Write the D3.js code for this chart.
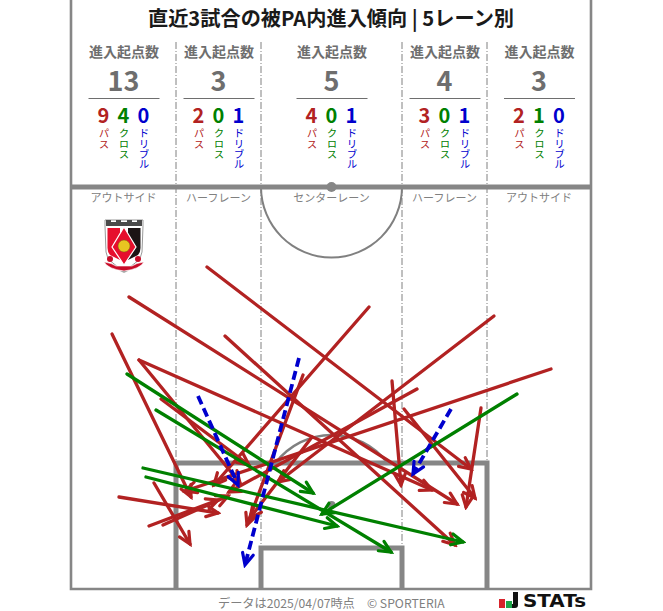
<!DOCTYPE html>
<html><head><meta charset="utf-8">
<script src="https://cdn.jsdelivr.net/npm/d3@7"></script>
<style>html,body{margin:0;padding:0;background:#fff}svg{display:block;font-family:"Noto Sans CJK JP","Noto Sans",sans-serif}</style>
</head><body><svg id="c" width="663" height="611"></svg>
<script>
const laneNames = ["アウトサイド","ハーフレーン","センターレーン","ハーフレーン","アウトサイド"];
const laneEdges = [0,105,190,331,416,520];
const laneTotals = [13,3,5,4,3];
const passCounts = [9,2,4,3,2];
const crossCounts = [4,0,0,0,1];
const dribbleCounts = [0,1,1,1,0];
const typeNames = ["パス","クロス","ドリブル"];
const typeColors = ["#b22222","#008000","#0000cd"];
// [startX, startY, endX, endY] in pitch units: 520 wide, 402 from halfway line to goal line
const passes = [
 [41,147,120,310],[58,110,386,317],[136,80,400,282],[154,149,384,358],
 [68,173,169,296],[68,173,361,303],[90,212,178,278],[48,310,147,326],
 [83,296,119,357],[78,339,147,313],[92,338,157,309],[298,120,143,298],
 [232,188,176,338],[321,194,330,298],[333,222,404,311],[410,221,395,320],
 [480,182,114,304],[423,129,207,295],[346,202,158,305],[241,250,179,331]];
const crosses = [[56,187,242,306],[85,223,320,365],[72,281,392,355],[75,290,266,339],[446,207,251,327]];
const dribbles = [[127,209,167,298],[228,171,174,378],[380,222,342,287]];
const penaltyBox = [105,276,416,402];
const goalBox = [190,361,331,402];
const centerCircleR = 70.5, penaltyArcR = 70, penaltySpotY = 318;

const svg = d3.select("#c");
const x = d3.scaleLinear().domain([0,520]).range([71,591]);
const y = d3.scaleLinear().domain([0,402]).range([187,589]);
const pitchC = "#868686", textG = "#6e6e6e";
const cx = x(260.5);

// lane dividers
const dash = "7 2 1 2";
[[105,-145,276],[190,-145,361],[331,-145,361],[416,-145,276]].forEach(d=>{
  svg.append("line").attr("x1",x(d[0])).attr("x2",x(d[0])).attr("y1",y(d[1])).attr("y2",y(d[2]))
    .attr("stroke","#808080").attr("stroke-width",1).attr("stroke-dasharray",dash);
});
// arcs
const arc = d3.arc();
svg.append("path").attr("transform",`translate(${cx},${y(0)})`)
  .attr("d",arc({innerRadius:centerCircleR-1,outerRadius:centerCircleR+1,startAngle:Math.PI/2,endAngle:Math.PI*1.5}))
  .attr("fill","#808080");
const a0 = Math.acos((penaltySpotY-276)/penaltyArcR);
svg.append("path").attr("transform",`translate(${cx},${y(penaltySpotY)})`)
  .attr("d",arc({innerRadius:penaltyArcR-1.2,outerRadius:penaltyArcR+1.2,startAngle:-a0,endAngle:a0}))
  .attr("fill","#808080");
svg.append("circle").attr("cx",cx).attr("cy",y(penaltySpotY)).attr("r",4).attr("fill",pitchC);
// boxes
[[penaltyBox,5],[goalBox,5]].forEach(([b,w])=>{
  svg.append("path").attr("fill","none").attr("stroke",pitchC).attr("stroke-width",w)
    .attr("d",`M${x(b[0])},${y(b[3])}V${y(b[1])}H${x(b[2])}V${y(b[3])}`);
});
// frame
svg.append("path").attr("fill","none").attr("stroke",pitchC).attr("stroke-width",2.6)
  .attr("d",`M${x(0)},0V${y(402)}H${x(520)}V0`);
svg.append("line").attr("x1",x(0)).attr("x2",x(520)).attr("y1",y(0)).attr("y2",y(0)).attr("stroke",pitchC).attr("stroke-width",5);
svg.append("circle").attr("cx",cx).attr("cy",y(0)).attr("r",5).attr("fill",pitchC);

// title
svg.append("text").attr("x",331).attr("y",25.5).attr("text-anchor","middle").attr("font-size",20.2).attr("font-weight",700).attr("fill","#1a1a1a")
  .text("直近3試合の被PA内進入傾向 | 5レーン別");

// lane summaries
laneNames.forEach((n,i)=>{
  const c = (x(laneEdges[i])+x(laneEdges[i+1]))/2 + 0.5;
  svg.append("text").attr("x",c).attr("y",57).attr("text-anchor","middle").attr("font-size",14).attr("font-weight",700).attr("fill",textG).text("進入起点数");
  svg.append("text").attr("x",c-0.5).attr("y",91).attr("text-anchor","middle").attr("font-size",27).attr("font-weight",700).attr("fill",textG).text(laneTotals[i]);
  svg.append("line").attr("x1",c-35.5).attr("x2",c+35.5).attr("y1",98.5).attr("y2",98.5).attr("stroke",textG).attr("stroke-width",1);
  [passCounts[i],crossCounts[i],dribbleCounts[i]].forEach((v,k)=>{
    const tx = c-0.5+(k-1)*20;
    svg.append("text").attr("x",tx).attr("y",123).attr("text-anchor","middle").attr("font-size",20).attr("font-weight",700).attr("fill",typeColors[k]).text(v);
    svg.append("text").attr("transform",`translate(${tx+0.5},128)`).attr("font-size",10.5).attr("fill",typeColors[k])
      .style("writing-mode","vertical-rl").style("letter-spacing","-0.2px").text(typeNames[k]);
  });
  svg.append("text").attr("x",c-0.5).attr("y",202).attr("text-anchor","middle").attr("font-size",11).attr("font-weight",400).attr("fill","#808080").text(n);
});

// emblem
const e = svg.append("g").attr("transform","translate(104,218)");
e.append("path").attr("d","M1,2H39V8L38,34Q37,44 20,52Q3,44 2,34L1,8Z").attr("fill","#fff").attr("stroke","#999").attr("stroke-width",1);
e.append("path").attr("d","M2,2H7V4H12V2H17V4H23V2H28V4H33V2H38V8H2Z").attr("fill","#4a4a4a");
e.append("path").attr("d","M3.5,10H16V42L6,37Q3.5,34 3.5,30Z").attr("fill","#e60f2d");
e.append("path").attr("d","M24,10H36.5V30Q36.5,34 34,37L24,42Z").attr("fill","#1c1414");
e.append("path").attr("d","M20,9L32,29L20,47L8,29Z").attr("fill","#e60f2d").attr("stroke","#fff").attr("stroke-width",1.2);
e.append("circle").attr("cx",20).attr("cy",28).attr("r",6).attr("fill","#e8c521").attr("stroke","#7a6a10").attr("stroke-width",.5);
e.append("path").attr("d","M0,44Q8,45 12,48H28Q32,45 40,44Q36,51 20,53Q4,51 0,44Z").attr("fill","#c80c28").attr("stroke","#fff").attr("stroke-width",.6);
e.append("circle").attr("cx",6).attr("cy",41).attr("r",3).attr("fill","#c80c28");
e.append("circle").attr("cx",34).attr("cy",41).attr("r",3).attr("fill","#c80c28");
e.append("path").attr("d","M16,53H24L20,55Z").attr("fill","#aaa");

// arrows
const defs = svg.append("defs");
typeColors.forEach((col,i)=>{
  defs.append("marker").attr("id","h"+i).attr("markerUnits","userSpaceOnUse").attr("viewBox","-15 -9 18 18")
    .attr("refX",0).attr("refY",0).attr("markerWidth",18).attr("markerHeight",18).attr("orient","auto")
    .append("path").attr("d","M-11.5,-5.5L0,0L-11.5,5.5").attr("fill","none").attr("stroke",col).attr("stroke-width",3.2).attr("stroke-linecap","round");
});
[[passes,0,null,3.3],[crosses,1,null,3.3],[dribbles,2,"9 4.5",3.8]].forEach(([data,i,da,w])=>{
  svg.append("g").selectAll("line").data(data).join("line")
    .attr("x1",d=>x(d[0])).attr("y1",d=>y(d[1])).attr("x2",d=>x(d[2])).attr("y2",d=>y(d[3]))
    .attr("stroke",typeColors[i]).attr("stroke-width",w).attr("stroke-dasharray",da)
    .attr("stroke-linecap",da?"butt":"round").attr("marker-end",`url(#h${i})`);
});

// footer
svg.append("text").attr("x",218).attr("y",607.5).attr("font-size",12.2).attr("font-weight",400).attr("fill","#808080").text("データは2025/04/07時点");
svg.append("text").attr("x",367).attr("y",607.5).attr("font-size",12.2).attr("font-weight",400).attr("fill","#808080").text("© SPORTERIA");
// logo
const l = svg.append("g");
l.append("rect").attr("x",499).attr("y",599).attr("width",6).attr("height",9).attr("fill","#d8242c");
l.append("rect").attr("x",506).attr("y",601).attr("width",6).attr("height",7).attr("fill","#1fa64a");
l.append("path").attr("d","M513,592H518V605Q518,608 515,608H512V604H513Z").attr("fill","#111");
l.append("text").attr("x",523).attr("y",607).attr("font-family","DejaVu Sans").attr("font-weight",700).attr("font-size",18.5).attr("fill","#111")
  .attr("textLength",63).attr("lengthAdjust","spacingAndGlyphs").text("STATs");
</script></body></html>
